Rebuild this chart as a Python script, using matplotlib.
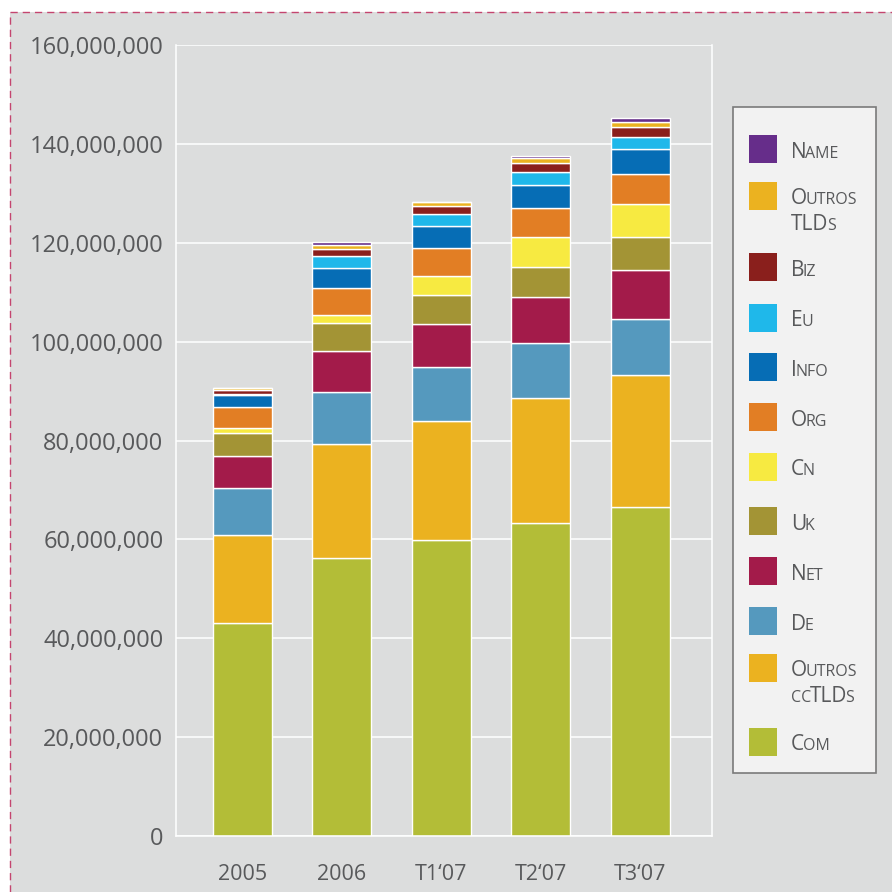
import numpy as np
import matplotlib
matplotlib.use("Agg")
import matplotlib.pyplot as plt
from matplotlib.lines import Line2D
from matplotlib.patches import Rectangle
from matplotlib.ticker import FuncFormatter

plt.rcParams['font.family'] = ['Open Sans', 'DejaVu Sans']

# dados (milhões de domínios)
periods = ["2005", "2006", "T1\u201807", "T2\u201807", "T3\u201807"]
com = [43.1, 56.3, 59.9, 63.3, 66.5]
outros_cctlds = [17.8, 23.0, 24.0, 25.3, 26.7]
de = [9.5, 10.5, 10.9, 11.1, 11.3]
net = [6.4, 8.3, 8.8, 9.3, 10.0]
uk = [4.7, 5.7, 5.9, 6.1, 6.7]
cn = [1.0, 1.5, 3.8, 6.0, 6.6]
org = [4.2, 5.6, 5.7, 5.9, 6.2]
info = [2.5, 4.0, 4.3, 4.6, 4.9]
eu = [0.2, 2.4, 2.5, 2.7, 2.4]
biz = [0.8, 1.5, 1.6, 1.8, 2.1]
outros_tlds = [0.4, 0.8, 0.8, 1.0, 1.1]
name = [0.1, 0.5, 0.1, 0.5, 0.7]
yticks = [0, 20e6, 40e6, 60e6, 80e6, 100e6, 120e6, 140e6, 160e6]

# ordem de empilhamento (de baixo para cima)
series = [com, outros_cctlds, de, net, uk, cn, org, info, eu, biz, outros_tlds, name]
colors = ['#b3bd37', '#ebb220', '#5599be', '#a31b4a', '#a39435', '#f7ea41',
          '#e27e24', '#066db5', '#1fb8ea', '#8a1f1c', '#ebb220', '#662d8a']
# rótulos em versalete: lista de linhas, cada linha lista de (texto, grande?)
labels = [
    [[("C", 1), ("OM", 0)]],
    [[("O", 1), ("UTROS", 0)], [("CC", 0), ("TLD", 1), ("S", 0)]],
    [[("D", 1), ("E", 0)]],
    [[("N", 1), ("ET", 0)]],
    [[("U", 1), ("K", 0)]],
    [[("C", 1), ("N", 0)]],
    [[("O", 1), ("RG", 0)]],
    [[("I", 1), ("NFO", 0)]],
    [[("E", 1), ("U", 0)]],
    [[("B", 1), ("IZ", 0)]],
    [[("O", 1), ("UTROS", 0)], [("TLD", 1), ("S", 0)]],
    [[("N", 1), ("AME", 0)]],
]
# centro vertical dos quadrados da legenda (px, de cima)
leg_y = [742, 668, 621, 571, 521, 467, 417, 367, 318, 267, 196, 149]

W = 892
gray = '#dcdddd'
txt = '#58595b'

fig = plt.figure(figsize=(8.92, 8.92), dpi=100)
fig.patch.set_facecolor('white')

# painel cinzento com contorno tracejado à esquerda e em cima
x0, y0 = 10 / W, 1 - 12 / W
fig.patches.append(Rectangle((x0, 0), 1 - x0, y0, transform=fig.transFigure,
                             facecolor=gray, edgecolor='none', zorder=-5))
dash = dict(color='#c4456f', lw=1.0, linestyle=(0, (5.2, 3.6)),
            transform=fig.transFigure, zorder=1)
fig.lines.append(Line2D([x0, x0], [0, y0], **dash))
fig.lines.append(Line2D([x0, 1], [y0, y0], **dash))

ax = fig.add_axes([176 / W, 56 / W, 536 / W, 791 / W])
ax.set_facecolor('none')
ax.set_axisbelow(True)

x = np.arange(len(periods))
bottom = np.zeros(len(periods))
for vals, c in zip(series, colors):
    v = np.array(vals) * 1e6
    ax.bar(x, v, 0.593, bottom=bottom, color=c, edgecolor='white', linewidth=1.0)
    bottom += v

ax.set_xlim(-0.668, 4.72)
ax.set_ylim(0, 160e6)
ax.set_yticks(yticks)
ax.yaxis.set_major_formatter(FuncFormatter(lambda v, p: f"{int(v):,}"))
ax.set_xticks(x)
ax.set_xticklabels(periods)
ax.grid(axis='y', color='white', lw=1.1)
for s in ax.spines.values():
    s.set_color('white')
    s.set_linewidth(1.1)
ax.spines['top'].set_visible(False)
ax.tick_params(length=0, colors=txt)
ax.tick_params(axis='y', labelsize=17, pad=9)
ax.tick_params(axis='x', labelsize=15.5, pad=20)

# legenda manual
fig.patches.append(Rectangle((733 / W, 1 - 773 / W), 143 / W, 666 / W,
                             transform=fig.transFigure, facecolor='#f2f2f2',
                             edgecolor='#7a7a7a', lw=1.2, zorder=2))
renderer = fig.canvas.get_renderer()
for lines, c, yc in zip(labels, colors, leg_y):
    fig.patches.append(Rectangle((749 / W, 1 - (yc + 14) / W), 28 / W, 28 / W,
                                 transform=fig.transFigure, facecolor=c,
                                 edgecolor='none', zorder=3))
    for i, parts in enumerate(lines):
        base = yc + 8.5 + 25 * i
        xp = 791
        for s, big in parts:
            t = fig.text(xp / W, 1 - base / W, s, fontsize=15 if big else 11.5,
                         color=txt, va='baseline', ha='left', zorder=4)
            xp = t.get_window_extent(renderer).x1 - 1.5

fig.savefig("out.png", dpi=100)
